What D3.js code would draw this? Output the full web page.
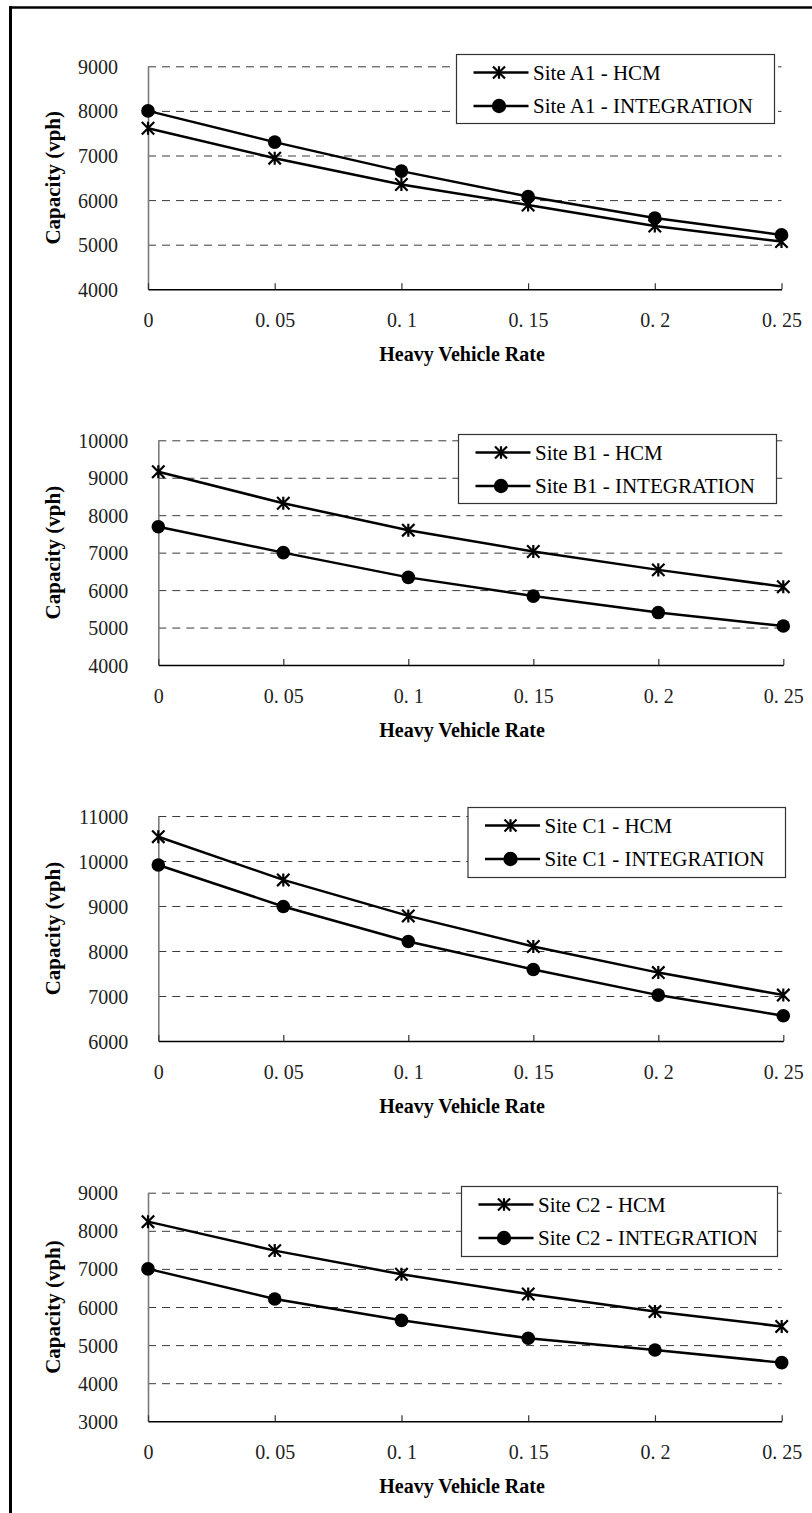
<!DOCTYPE html>
<html>
<head>
<meta charset="utf-8">
<script src="https://cdn.jsdelivr.net/npm/d3@7"></script>
<style>
  html, body { margin: 0; padding: 0; background: #fff; }
  svg { display: block; }
</style>
</head>
<body>
<svg id="chart" width="812" height="1513"></svg>
<script>
// Heavy vehicle rate (x values shared by all four panels)
const heavyVehicleRates = [0, 0.05, 0.1, 0.15, 0.2, 0.25];

// Capacity (vph) per site, HCM vs INTEGRATION
const siteA1Hcm = [7610, 6940, 6350, 5890, 5420, 5070];
const siteA1Integration = [8000, 7300, 6650, 6080, 5600, 5220];

const siteB1Hcm = [9160, 8320, 7600, 7030, 6540, 6090];
const siteB1Integration = [7690, 7000, 6340, 5840, 5400, 5040];

const siteC1Hcm = [10540, 9580, 8780, 8100, 7520, 7020];
const siteC1Integration = [9910, 8990, 8210, 7590, 7020, 6560];

const siteC2Hcm = [8240, 7480, 6860, 6340, 5880, 5490];
const siteC2Integration = [7000, 6210, 5650, 5180, 4870, 4540];

// Y tick labels per panel
const yTicksA1 = [4000, 5000, 6000, 7000, 8000, 9000];
const yTicksB1 = [4000, 5000, 6000, 7000, 8000, 9000, 10000];
const yTicksC1 = [6000, 7000, 8000, 9000, 10000, 11000];
const yTicksC2 = [3000, 4000, 5000, 6000, 7000, 8000, 9000];

const siteNames = ["A1", "B1", "C1", "C2"];
const seriesNames = ["HCM", "INTEGRATION"];
const xAxisTitle = "Heavy Vehicle Rate";
const yAxisTitle = "Capacity (vph)";

const panels = [
  { site: siteNames[0], hcm: siteA1Hcm, integ: siteA1Integration, ticks: yTicksA1,
    box: { left: 148, right: 781.5, top: 66.3, bottom: 289.3 },
    legend: { x: 456, y: 54, w: 318, h: 69 } },
  { site: siteNames[1], hcm: siteB1Hcm, integ: siteB1Integration, ticks: yTicksB1,
    box: { left: 158.3, right: 783.3, top: 440.3, bottom: 665 },
    legend: { x: 458, y: 434, w: 318, h: 69 } },
  { site: siteNames[2], hcm: siteC1Hcm, integ: siteC1Integration, ticks: yTicksC1,
    box: { left: 158.3, right: 783.3, top: 816, bottom: 1041 },
    legend: { x: 467.5, y: 807, w: 317.5, h: 70 } },
  { site: siteNames[3], hcm: siteC2Hcm, integ: siteC2Integration, ticks: yTicksC2,
    box: { left: 148, right: 781.7, top: 1192.7, bottom: 1421.3 },
    legend: { x: 461, y: 1186, w: 316, h: 70 } }
];

const svg = d3.select("#chart");
const serif = "'Liberation Serif', 'Times New Roman', 'DejaVu Serif', serif";

svg.append("rect").attr("width", 812).attr("height", 1513).attr("fill", "#fff");

// page frame (left and top rules)
svg.append("line").attr("x1", 10.5).attr("x2", 10.5).attr("y1", 6).attr("y2", 1513)
  .attr("stroke", "#000").attr("stroke-width", 3);
svg.append("line").attr("x1", 9).attr("x2", 812).attr("y1", 7.5).attr("y2", 7.5)
  .attr("stroke", "#000").attr("stroke-width", 2.5);

const fmtRate = v => (v === 0 ? "0" : String(v).replace(".", ". "));

function starPath(s) {
  return `M${-s},${-s}L${s},${s}M${-s},${s}L${s},${-s}M0,${-s * 1.05}L0,${s * 1.05}`;
}

panels.forEach(p => {
  const b = p.box;
  const x = d3.scaleLinear().domain([0, 0.25]).range([b.left, b.right]);
  const y = d3.scaleLinear().domain(d3.extent(p.ticks)).range([b.bottom, b.top]);
  const g = svg.append("g");

  // dashed horizontal gridlines
  const grid = g.append("g")
    .attr("transform", `translate(${b.left},0)`)
    .call(d3.axisLeft(y).tickValues(p.ticks.slice(1)).tickSize(-(b.right - b.left)).tickFormat(""));
  grid.select(".domain").remove();
  grid.selectAll(".tick line")
    .attr("stroke", "#3a3a3a").attr("stroke-width", 1).attr("stroke-dasharray", "8,6");

  // y axis
  const yAxis = g.append("g")
    .attr("transform", `translate(${b.left},0)`)
    .call(d3.axisLeft(y).tickValues(p.ticks).tickSize(0).tickSizeOuter(0).tickFormat(d3.format("d")));
  yAxis.select(".domain").attr("stroke", "#7a7a7a").attr("stroke-width", 1.6);
  yAxis.selectAll(".tick text")
    .attr("x", -30).attr("dy", "0.35em")
    .attr("font-family", serif).attr("font-size", 20).attr("fill", "#222");

  // x axis with inward ticks
  const xAxis = g.append("g")
    .attr("transform", `translate(0,${b.bottom})`)
    .call(d3.axisBottom(x).tickValues(heavyVehicleRates).tickSize(-6).tickSizeOuter(0).tickFormat(fmtRate));
  xAxis.select(".domain").attr("stroke", "#000").attr("stroke-width", 1.6);
  xAxis.selectAll(".tick line").attr("stroke", "#333").attr("stroke-width", 1.2);
  xAxis.selectAll(".tick text")
    .attr("y", 31).attr("dy", "0.35em")
    .attr("font-family", serif).attr("font-size", 20).attr("fill", "#222");

  // axis titles
  g.append("text")
    .attr("x", 462).attr("y", b.bottom + 65).attr("dy", "0.35em")
    .attr("text-anchor", "middle")
    .attr("font-family", serif).attr("font-weight", "bold").attr("font-size", 20)
    .text(xAxisTitle);
  g.append("text")
    .attr("transform", `translate(53,${(b.top + b.bottom) / 2}) rotate(-90)`)
    .attr("dy", "0.35em")
    .attr("text-anchor", "middle")
    .attr("font-family", serif).attr("font-weight", "bold").attr("font-size", 21)
    .text(yAxisTitle);

  const line = d3.line().x((d, i) => x(heavyVehicleRates[i])).y(d => y(d));

  // HCM series (star markers)
  g.append("path").datum(p.hcm).attr("d", line)
    .attr("fill", "none").attr("stroke", "#000").attr("stroke-width", 2.5);
  g.selectAll(".hcm-mark").data(p.hcm).enter().append("path")
    .attr("class", "hcm-mark")
    .attr("transform", (d, i) => `translate(${x(heavyVehicleRates[i])},${y(d)})`)
    .attr("d", starPath(6.2))
    .attr("fill", "none").attr("stroke", "#000").attr("stroke-width", 2.2);

  // INTEGRATION series (filled circles)
  g.append("path").datum(p.integ).attr("d", line)
    .attr("fill", "none").attr("stroke", "#000").attr("stroke-width", 2.5);
  g.selectAll(".int-mark").data(p.integ).enter().append("circle")
    .attr("class", "int-mark")
    .attr("cx", (d, i) => x(heavyVehicleRates[i]))
    .attr("cy", d => y(d))
    .attr("r", 6.8).attr("fill", "#000");

  // legend
  const L = p.legend;
  const lg = g.append("g").attr("transform", `translate(${L.x},${L.y})`);
  lg.append("rect").attr("x", 0.5).attr("y", 0.5).attr("width", L.w).attr("height", L.h)
    .attr("fill", "#fff").attr("stroke", "#333").attr("stroke-width", 1.2);
  const rows = [18.5, 52];
  seriesNames.forEach((name, k) => {
    const ry = rows[k];
    lg.append("line").attr("x1", 17.5).attr("x2", 72.5).attr("y1", ry).attr("y2", ry)
      .attr("stroke", "#000").attr("stroke-width", 2.5);
    if (k === 0) {
      lg.append("path").attr("transform", `translate(43,${ry})`).attr("d", starPath(6))
        .attr("fill", "none").attr("stroke", "#000").attr("stroke-width", 2.2);
    } else {
      lg.append("circle").attr("cx", 43).attr("cy", ry).attr("r", 7.2).attr("fill", "#000");
    }
    lg.append("text").attr("x", 77).attr("y", ry).attr("dy", "0.35em")
      .attr("font-family", serif).attr("font-size", 21).attr("fill", "#000")
      .text(`Site ${p.site} - ${name}`);
  });
});
</script>
</body>
</html>
